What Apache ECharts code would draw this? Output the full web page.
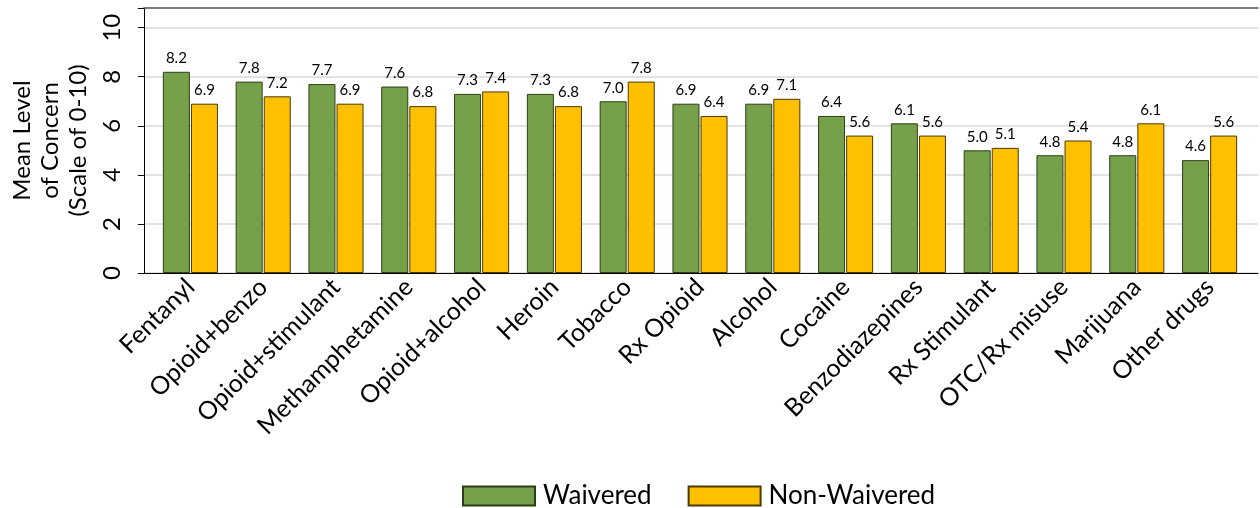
<!DOCTYPE html>
<html>
<head>
<meta charset="utf-8">
<script src="https://cdn.jsdelivr.net/npm/echarts@6/dist/echarts.min.js"></script>
<style>
  html, body { margin: 0; padding: 0; background: #fff; }
  #chart { width: 1260px; height: 508px; }
</style>
</head>
<body>
<div id="chart"></div>
<script>
// Substances, ordered by waivered-prescriber concern
const categories = [
  'Fentanyl', 'Opioid+benzo', 'Opioid+stimulant', 'Methamphetamine', 'Opioid+alcohol',
  'Heroin', 'Tobacco', 'Rx Opioid', 'Alcohol', 'Cocaine',
  'Benzodiazepines', 'Rx Stimulant', 'OTC/Rx misuse', 'Marijuana', 'Other drugs'
];
const waivered    = [8.2, 7.8, 7.7, 7.6, 7.3, 7.3, 7.0, 6.9, 6.9, 6.4, 6.1, 5.0, 4.8, 4.8, 4.6];
const nonWaivered = [6.9, 7.2, 6.9, 6.8, 7.4, 6.8, 7.8, 6.4, 7.1, 5.6, 5.6, 5.1, 5.4, 6.1, 5.6];
const yTicks = [0, 2, 4, 6, 8, 10];

const FONT = 'Lato, "Noto Sans", sans-serif';
const GREEN = '#77A04A';
const YELLOW = '#FFC000';

const chart = echarts.init(document.getElementById('chart'), null, { renderer: 'canvas' });

const valueLabel = {
  show: true,
  position: 'top',
  distance: 6,
  color: '#000',
  fontSize: 15,
  fontFamily: FONT,
  formatter: p => p.value.toFixed(1)
};

chart.setOption({
  animation: false,
  textStyle: { fontFamily: FONT },
  grid: [
    // bar band area
    { left: 154, right: 14, top: 8, height: 265 },
    // frame, gridlines and y scale
    { left: 138, right: 2, top: 8, height: 265 }
  ],
  legend: {
    data: ['Waivered', 'Non-Waivered'],
    left: 457,
    top: 478,
    icon: 'rect',
    itemWidth: 72,
    itemHeight: 19,
    itemGap: 36,
    textStyle: { fontSize: 26, color: '#000', fontFamily: FONT, padding: [0, 0, 0, 3] }
  },
  xAxis: [
    {
      type: 'category', gridIndex: 0, data: categories,
      axisLine: { show: false }, axisTick: { show: false },
      axisLabel: { rotate: 45, fontSize: 25, color: '#000', fontFamily: FONT, margin: 10, interval: 0 }
    },
    {
      type: 'value', gridIndex: 1, min: 0, max: 1,
      axisLine: { show: true, onZero: false, lineStyle: { color: '#000', width: 1 } },
      axisTick: { show: false }, axisLabel: { show: false }, splitLine: { show: false }
    },
    {
      type: 'value', gridIndex: 1, position: 'top', min: 0, max: 1,
      axisLine: { show: true, onZero: false, lineStyle: { color: '#595959', width: 1.5 } },
      axisTick: { show: false }, axisLabel: { show: false }, splitLine: { show: false }
    }
  ],
  yAxis: [
    {
      type: 'value', gridIndex: 0, min: 0, max: 10.8,
      show: false, splitLine: { show: false }
    },
    {
      type: 'value', gridIndex: 1, min: 0, max: 10.8, interval: 2,
      name: 'Mean Level\nof Concern\n(Scale of 0-10)',
      nameLocation: 'middle',
      nameGap: 50,
      nameTextStyle: { fontSize: 24, color: '#000', fontFamily: FONT, lineHeight: 28, align: 'center' },
      axisLine: { show: true, lineStyle: { color: '#000', width: 1 } },
      axisTick: { show: true, length: 6, lineStyle: { color: '#000' } },
      axisLabel: {
        rotate: 90, fontSize: 24, color: '#000', fontFamily: FONT, margin: 20,
        formatter: v => (yTicks.includes(v) ? String(v) : '')
      },
      splitLine: { show: true, lineStyle: { color: '#D9D9D9', width: 1.5 } }
    }
  ],
  series: [
    {
      name: 'Waivered', type: 'bar', xAxisIndex: 0, yAxisIndex: 0,
      data: waivered, barWidth: 27, barGap: '4%',
      itemStyle: { color: GREEN, borderColor: '#2B3F17', borderWidth: 1 },
      label: valueLabel
    },
    {
      name: 'Non-Waivered', type: 'bar', xAxisIndex: 0, yAxisIndex: 0,
      data: nonWaivered, barWidth: 27,
      itemStyle: { color: YELLOW, borderColor: '#4A3A00', borderWidth: 1 },
      label: valueLabel
    }
  ]
});
</script>
</body>
</html>
